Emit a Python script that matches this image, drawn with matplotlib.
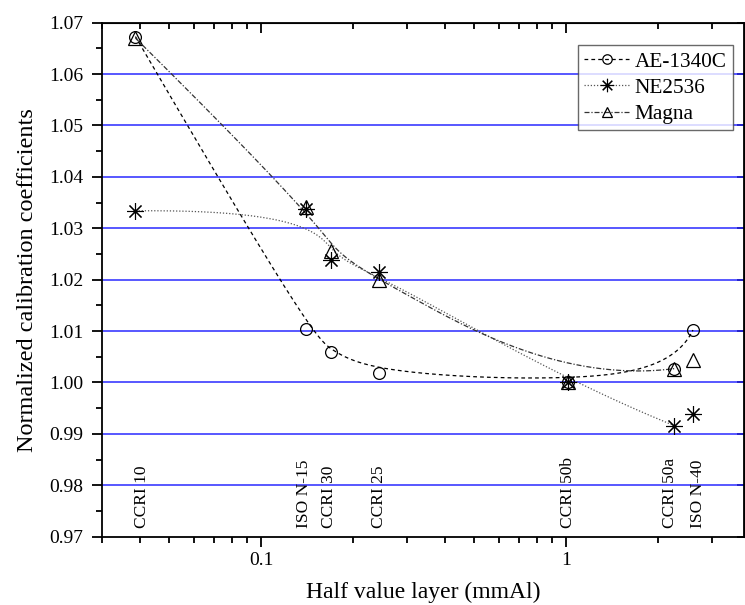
import matplotlib

matplotlib.use("Agg")
import matplotlib.pyplot as plt
import numpy as np
from matplotlib.ticker import FixedLocator, FormatStrFormatter, LogLocator, NullFormatter

plt.rcParams["font.family"] = ["Liberation Serif", "DejaVu Serif"]
plt.rcParams["font.size"] = 14

# beam qualities and their half value layers (mmAl)
qualities = ["CCRI 10", "ISO N-15", "CCRI 30", "CCRI 25", "CCRI 50b", "CCRI 50a", "ISO N-40"]
hvl = [0.0387, 0.140, 0.169, 0.243, 1.01, 2.26, 2.60]

# normalized calibration coefficients per chamber
ae1340c = [1.0673, 1.0105, 1.0059, 1.0019, 1.0000, 1.0026, 1.0102]
ne2536 = [1.0334, 1.0337, 1.0238, 1.0214, 1.0000, 0.9916, 0.9938]
magna = [1.0670, 1.0342, 1.0256, 1.0199, 1.0000, 1.0027, 1.0044]

# how many points each smoothing curve runs through
n_curve = {"AE-1340C": 7, "NE2536": 6, "Magna": 6}

label_offsets = [5, -1, -1, 0, 0, -3, 4]  # points, nudges for the quality labels


def bspline(xs, ys, n=400, k=3):
    """Clamped cubic B-spline using the points as control polygon (log-x)."""
    ctrl = np.column_stack([np.log10(xs), ys])
    m = len(ctrl)
    inner = np.arange(1, m - k) / (m - k)
    knots = np.concatenate([np.zeros(k + 1), inner, np.ones(k + 1)])
    t = np.linspace(0, 1, n)
    t[-1] -= 1e-9
    basis = np.zeros((n, len(knots) - 1))
    for i in range(len(knots) - 1):
        basis[:, i] = (knots[i] <= t) & (t < knots[i + 1])
    for d in range(1, k + 1):
        new = np.zeros((n, len(knots) - 1 - d))
        for i in range(len(knots) - 1 - d):
            a = knots[i + d] - knots[i]
            b = knots[i + d + 1] - knots[i + 1]
            left = (t - knots[i]) / a * basis[:, i] if a > 0 else 0
            right = (knots[i + d + 1] - t) / b * basis[:, i + 1] if b > 0 else 0
            new[:, i] = left + right
        basis = new
    pts = basis @ ctrl
    return 10 ** pts[:, 0], pts[:, 1]


fig = plt.figure(figsize=(7.45, 6.05), dpi=100)
ax = fig.add_axes([0.1365, 0.1129, 0.8625, 0.8496])

series = [
    ("AE-1340C", ae1340c, "o", (0, (3, 2.5)), "black", 8.5, 0.9),
    ("NE2536", ne2536, (8, 2, 0), (0, (1, 1.5)), "#555555", 12, 0.8),
    ("Magna", magna, "^", (0, (4, 1.5, 1, 1.5)), "#333333", 9.5, 0.9),
]

for name, vals, marker, ls, col, ms, mew in series:
    n = n_curve[name]
    cx, cy = bspline(hvl[:n], vals[:n])
    ax.plot(cx, cy, ls=ls, color=col, lw=0.9, zorder=2)
    ax.plot(hvl, vals, ls="none", marker=marker, ms=ms, mfc="none", mec="black",
            mew=mew, zorder=3)
    ax.plot([], [], ls=ls, color=col, lw=0.9, marker=marker, ms=ms * 0.8,
            mfc="none", mec="black", mew=mew, label=name)

for q, x, dx in zip(qualities, hvl, label_offsets):
    ax.annotate(q, (x, 0.9717), xytext=(dx, 0), textcoords="offset points",
                rotation=90, ha="center", va="bottom", fontsize=12.5)

ax.set_xscale("log")
ax.set_xlim(0.03, 3.83)
ax.set_ylim(0.97, 1.07)

ax.xaxis.set_major_locator(FixedLocator([0.1, 1]))
ax.xaxis.set_major_formatter(FormatStrFormatter("%g"))
ax.xaxis.set_minor_locator(LogLocator(base=10, subs=np.arange(2, 10)))
ax.xaxis.set_minor_formatter(NullFormatter())
ax.yaxis.set_major_locator(FixedLocator(np.arange(0.97, 1.0701, 0.01)))
ax.yaxis.set_minor_locator(FixedLocator(np.arange(0.975, 1.07, 0.01)))
ax.yaxis.set_major_formatter(FormatStrFormatter("%.2f"))

for yg in np.arange(0.98, 1.0601, 0.01):
    ax.axhline(yg, color="#2a2aff", lw=1.1, zorder=1)

ax.tick_params(which="both", direction="out", width=1.3, top=False, right=False)
ax.tick_params(which="major", length=7, labelsize=14, pad=4)
ax.tick_params(axis="y", which="major", pad=6)
ax.tick_params(which="minor", length=4)
for s in ax.spines.values():
    s.set_linewidth(1.3)

# mirrored ticks on top / right, pointing inward
top = ax.secondary_xaxis("top")
top.xaxis.set_major_locator(FixedLocator([0.1, 1]))
top.xaxis.set_minor_locator(LogLocator(base=10, subs=np.arange(2, 10)))
top.tick_params(which="both", direction="in", width=1.3, labeltop=False)
top.tick_params(which="major", length=7)
top.tick_params(which="minor", length=4)
top.xaxis.set_major_formatter(NullFormatter())
top.xaxis.set_minor_formatter(NullFormatter())
right = ax.secondary_yaxis("right")
right.yaxis.set_major_locator(FixedLocator(np.arange(0.97, 1.0701, 0.01)))
right.tick_params(direction="in", length=5, width=1.3, labelright=False)

ax.set_xlabel("Half value layer (mmAl)", fontsize=17, labelpad=9)
ax.set_ylabel("Normalized calibration coefficients", fontsize=17.5, labelpad=8)

leg = ax.legend(loc="upper right", bbox_to_anchor=(0.982, 0.956), fontsize=15.3,
                frameon=True, fancybox=False, edgecolor="#444444",
                handlelength=2.1, handletextpad=0.25, borderpad=0.3,
                labelspacing=0.3, borderaxespad=0)
leg.get_frame().set_linewidth(1.0)

fig.savefig("out.png", dpi=100)
